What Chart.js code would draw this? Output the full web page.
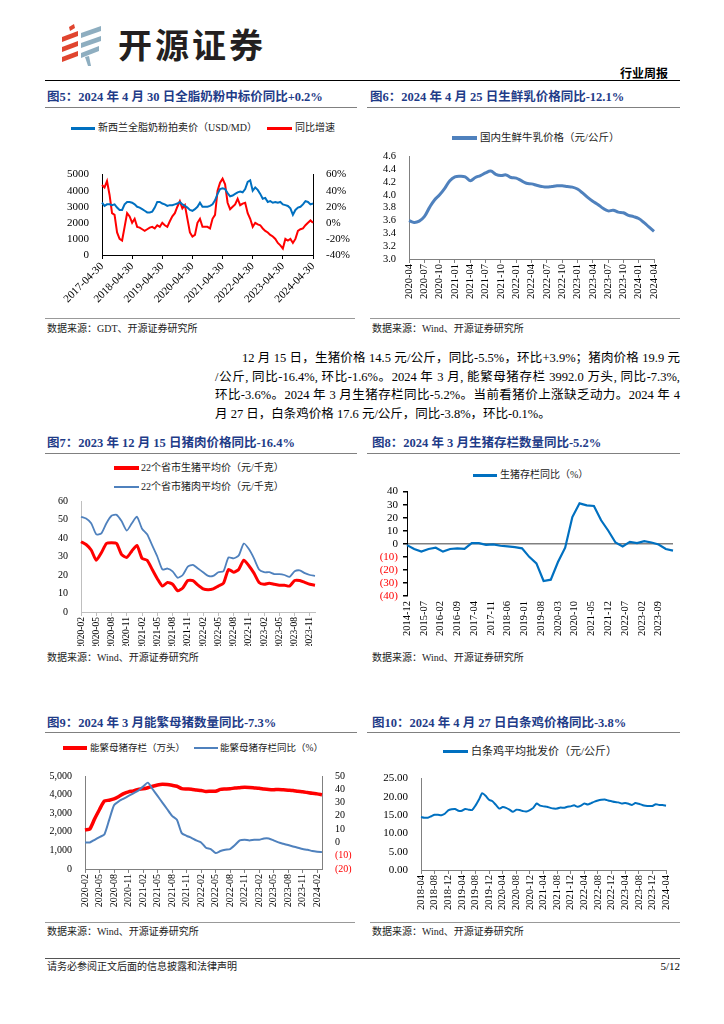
<!DOCTYPE html>
<html><head><meta charset="utf-8">
<script src="https://cdn.jsdelivr.net/npm/chart.js@4.4.1/dist/chart.umd.min.js"></script>
<style>
body{margin:0;background:#fff;}
#page{position:relative;width:724px;height:1024px;overflow:hidden;font-family:'Liberation Serif','Noto Sans CJK SC',serif;color:#000;background:#fff;}
.a{position:absolute;white-space:nowrap;}
.title{font-size:12.5px;font-weight:bold;color:#1F3C88;line-height:16px;}
.line{position:absolute;height:0;}
.src{font-size:10px;line-height:12px;color:#222;}
.leg{font-size:10px;line-height:12px;color:#222;}
.sw{position:absolute;}
.para{position:absolute;font-size:12.5px;line-height:16px;text-align:justify;text-align-last:justify;white-space:nowrap;}
.cv{position:absolute;}
</style></head>
<body><div id="page">

<svg class="a" style="left:58px;top:22px" width="56" height="46" viewBox="0 0 56 46">
  <polygon points="11,5 16,2 17,6 12,9" fill="#E0452F"/>
  <polygon points="4,15 20,9 20,14 4,20" fill="#E0452F"/>
  <polygon points="4,25 20,19 20,24 4,30" fill="#E0452F"/>
  <polygon points="4,35 20,29 20,34 4,40" fill="#E0452F"/>
  <polygon points="23,11 43,4 43,9 23,16" fill="#8EAEC0"/>
  <polygon points="23,21 43,14 43,19 23,26" fill="#8EAEC0"/>
  <polygon points="23,31 41,24 41,29 23,36" fill="#8EAEC0"/>
  <polygon points="27,35 31,34 33,44 30,44" fill="#8EAEC0"/>
</svg>
<div class="a" style="left:118px;top:24px;font-family:'Noto Sans CJK SC';font-weight:bold;font-size:34px;line-height:40px;letter-spacing:3px;color:#231f20;">开源证券</div>
<div class="a" style="right:56px;top:67px;font-size:12px;line-height:14px;font-weight:bold;">行业周报</div>
<div class="line" style="left:45px;top:80px;width:635px;border-top:1.5px solid #000;"></div>

<div class="a title" style="left:47px;top:89px;">图5：2024 年 4 月 30 日全脂奶粉中标价同比+0.2%</div>
<div class="a title" style="left:370px;top:89px;">图6：2024 年 4 月 25 日生鲜乳价格同比-12.1%</div>
<div class="line" style="left:45px;top:107px;width:312px;border-top:1.5px solid #808080;"></div>
<div class="line" style="left:367px;top:107px;width:313px;border-top:1.5px solid #808080;"></div>

<div class="sw" style="left:71px;top:127px;width:24px;height:2.5px;background:#0070C0;"></div>
<div class="a leg" style="left:98px;top:122px;">新西兰全脂奶粉拍卖价（USD/MD）</div>
<div class="sw" style="left:267px;top:127px;width:25px;height:2.5px;background:#FF0000;"></div>
<div class="a leg" style="left:295px;top:122px;">同比增速</div>

<div class="sw" style="left:452px;top:136px;width:25px;height:4px;background:#4F81BD;"></div>
<div class="a leg" style="left:480px;top:132px;font-size:10.5px;">国内生鲜牛乳价格（元/公斤）</div>

<div class="cv" style="left:45px;top:163px;"><canvas id="c5" width="310" height="152"></canvas></div>
<div class="cv" style="left:367px;top:145px;"><canvas id="c6" width="313" height="167"></canvas></div>

<div class="line" style="left:45px;top:318px;width:310px;border-top:1.5px solid #999;"></div>
<div class="line" style="left:370px;top:318px;width:310px;border-top:1.5px solid #999;"></div>
<div class="a src" style="left:47px;top:323px;">数据来源：GDT、开源证券研究所</div>
<div class="a src" style="left:372px;top:323px;">数据来源：Wind、开源证券研究所</div>

<div class="para" style="left:242px;top:350px;width:438px;">12 月 15 日，生猪价格 14.5 元/公斤，同比-5.5%，环比+3.9%；猪肉价格 19.9 元</div>
<div class="para" style="left:215px;top:368.5px;width:465px;">/公斤, 同比-16.4%, 环比-1.6%。2024 年 3 月, 能繁母猪存栏 3992.0 万头, 同比-7.3%,</div>
<div class="para" style="left:215px;top:387.3px;width:465px;">环比-3.6%。2024 年 3 月生猪存栏同比-5.2%。当前看猪价上涨缺乏动力。2024 年 4</div>
<div class="para" style="left:215px;top:406px;text-align:left;text-align-last:left;">月 27 日，白条鸡价格 17.6 元/公斤，同比-3.8%，环比-0.1%。</div>

<div class="a title" style="left:47px;top:435px;">图7：2023 年 12 月 15 日猪肉价格同比-16.4%</div>
<div class="a title" style="left:372px;top:435px;">图8：2024 年 3 月生猪存栏数量同比-5.2%</div>
<div class="line" style="left:45px;top:453px;width:312px;border-top:1.5px solid #808080;"></div>
<div class="line" style="left:367px;top:453px;width:313px;border-top:1.5px solid #808080;"></div>

<div class="sw" style="left:114px;top:466px;width:25px;height:4px;background:#FF0000;"></div>
<div class="a leg" style="left:141px;top:462px;">22个省市生猪平均价（元/千克）</div>
<div class="sw" style="left:114px;top:486px;width:25px;height:2px;background:#4F81BD;"></div>
<div class="a leg" style="left:141px;top:481px;">22个省市猪肉平均价（元/千克）</div>

<div class="sw" style="left:473px;top:473.5px;width:24px;height:3px;background:#0070C0;"></div>
<div class="a leg" style="left:500px;top:469px;">生猪存栏同比（%）</div>

<div class="cv" style="left:45px;top:490px;"><canvas id="c7" width="310" height="156"></canvas></div>
<div class="cv" style="left:367px;top:480px;"><canvas id="c8" width="313" height="160"></canvas></div>

<div class="a src" style="left:47px;top:652px;">数据来源：Wind、开源证券研究所</div>
<div class="a src" style="left:372px;top:652px;">数据来源：Wind、开源证券研究所</div>

<div class="a title" style="left:47px;top:715px;">图9：2024 年 3 月能繁母猪数量同比-7.3%</div>
<div class="a title" style="left:372px;top:715px;">图10：2024 年 4 月 27 日白条鸡价格同比-3.8%</div>
<div class="line" style="left:45px;top:732px;width:312px;border-top:1.5px solid #808080;"></div>
<div class="line" style="left:367px;top:732px;width:313px;border-top:1.5px solid #808080;"></div>

<div class="sw" style="left:63px;top:746px;width:24px;height:4px;background:#FF0000;"></div>
<div class="a leg" style="left:90px;top:742px;font-size:9.5px;">能繁母猪存栏（万头）</div>
<div class="sw" style="left:194px;top:746.8px;width:24px;height:2.5px;background:#4F81BD;"></div>
<div class="a leg" style="left:220px;top:742px;font-size:9.5px;">能繁母猪存栏同比（%）</div>

<div class="sw" style="left:443px;top:749.5px;width:25px;height:3px;background:#0070C0;"></div>
<div class="a leg" style="left:471px;top:745px;font-size:11px;">白条鸡平均批发价（元/公斤）</div>

<div class="cv" style="left:45px;top:765px;"><canvas id="c9" width="310" height="153"></canvas></div>
<div class="cv" style="left:367px;top:767px;"><canvas id="c10" width="313" height="151"></canvas></div>

<div class="line" style="left:45px;top:922px;width:310px;border-top:1.5px solid #999;"></div>
<div class="line" style="left:370px;top:922px;width:310px;border-top:1.5px solid #999;"></div>
<div class="a src" style="left:47px;top:926px;">数据来源：Wind、开源证券研究所</div>
<div class="a src" style="left:372px;top:926px;">数据来源：Wind、开源证券研究所</div>

<div class="line" style="left:45px;top:958px;width:635px;border-top:1.5px solid #555;"></div>
<div class="a src" style="left:47px;top:961px;">请务必参阅正文后面的信息披露和法律声明</div>
<div class="a" style="right:44px;top:960px;font-size:11px;line-height:13px;">5/12</div>

</div>
<script>
// ---------- data ----------
// Fig 5: GDT WMP auction price (USD/MT) and YoY (%), monthly 2017-04 .. 2024-04
const dairyTicks = ['2017-04-30','2018-04-30','2019-04-30','2020-04-30','2021-04-30','2022-04-30','2023-04-30','2024-04-30'];
const dairyPrice = [
  3250,3050,3150,3150,3100,3150,2950,2800,2800,
  3150,3300,3300,3250,3150,3000,2950,2850,2750,2650,2650,2700,
  2950,3300,3300,3200,3150,3050,3100,3100,3150,3200,3300,3150,
  3050,2950,2800,2750,2850,3000,3250,3000,3000,3000,3050,3150,
  3400,3800,4100,4150,4100,3850,3650,3700,3800,3900,3950,3900,
  4100,4550,4650,4000,4200,4050,3800,3500,3550,3300,3350,3250,
  3300,3250,3300,3150,3100,3050,2900,2500,2800,2950,3000,3150,
  3350,3300,3150,3200];
const dairyYoY = [
  47,44,52,35,12,10,-12,-20,-22,
  -5,12,8,0,5,-5,-6,-8,-10,-8,-6,-5,
  -7,-3,-5,0,-3,-5,2,8,12,20,27,18,
  22,5,-12,-17,-15,0,5,-5,-5,-5,-7,5,
  10,40,50,55,48,25,17,20,23,30,22,24,
  25,12,5,-5,0,-2,-3,-7,-10,-12,-15,-17,
  -20,-25,-28,-32,-20,-22,-20,-25,-20,-10,-8,-7,
  -3,0,3,0];

// Fig 6: raw milk price (yuan/kg), monthly 2020-04 .. 2024-04
const milkTicks = ['2020-04','2020-07','2020-10','2021-01','2021-04','2021-07','2021-10','2022-01','2022-04','2022-07','2022-10','2023-01','2023-04','2023-07','2023-10','2024-01','2024-04'];
const rawMilk = [
  3.60,3.57,3.59,3.66,3.80,3.92,4.00,4.10,4.22,
  4.28,4.29,4.28,4.22,4.27,4.30,4.34,4.37,4.32,4.30,4.31,4.27,
  4.26,4.22,4.18,4.17,4.15,4.13,4.12,4.13,4.14,4.14,4.13,4.12,
  4.09,4.03,3.96,3.90,3.85,3.79,3.75,3.76,3.73,3.72,3.68,3.66,
  3.63,3.57,3.50,3.43];

// Fig 7: live hog and pork prices (yuan/kg), monthly 2020-02 .. 2023-12
const pigTicks = ['2020-02','2020-05','2020-08','2020-11','2021-02','2021-05','2021-08','2021-11','2022-02','2022-05','2022-08','2022-11','2023-02','2023-05','2023-08','2023-11'];
const hogPrice = [
  38,36.5,33.5,28,32,37,37.5,37,31,29.5,33,
  36,29,28,23,18,14,16,15,11.5,13,17,17,
  14.5,12.5,12,12.5,14,15.5,23,21.5,23,28,25,21,
  16,15,15.5,15,14.5,14.5,14,17,17,16,15,14.5];
const porkPrice = [
  51.5,50.5,48,42,42.5,48,52,52.5,49,44,48,
  51.5,45,42,36,30,23,23.5,22,18.5,20,24.5,25.5,
  23.5,21.5,19.5,19.5,21.5,22,29.5,29,30.5,37,34,29,
  23,21.5,21.5,20.5,20.5,20,19,22,22.5,21,20,19.5];

// Fig 8: hog inventory YoY (%), quarterly readings on a monthly axis 2014-12 .. 2024-03
const hogTicks = ['2014-12','2015-07','2016-02','2016-09','2017-04','2017-11','2018-06','2019-01','2019-08','2020-03','2020-10','2021-05','2021-12','2022-07','2023-02','2023-09'];
const hogStockYoY = [
  -1,-4,-6,-4,-3,-6,-4,-3.5,-3.8,0.5,0.5,-0.8,-0.5,-1.5,-2,-2.5,-3.5,-10,-15,
  -28.5,-27.5,-14,-3,20.5,31,29.5,29,18,10,1,-2,1.5,0.5,2,1,-0.5,-4,-5.2];

// Fig 9: breeding sows (10k head) and YoY (%), monthly 2020-02 .. 2024-03
const sowTicks = ['2020-02','2020-05','2020-08','2020-11','2021-02','2021-05','2021-08','2021-11','2022-02','2022-05','2022-08','2022-11','2023-02','2023-05','2023-08','2023-11','2024-02'];
const sowStock = [
  2100,2150,2700,3200,3650,3700,3770,3900,4050,4150,
  4200,4280,4310,4370,4450,4520,4560,4540,4500,4450,
  4320,4300,4290,4250,4220,4170,4180,4180,4280,4300,
  4320,4350,4370,4390,4380,4360,4340,4300,4270,4260,
  4280,4260,4240,4220,4180,4150,4110,4070,4040,3992];
const sowYoY = [
  0,0,2,4,6,17,28,31,33,35,
  37,39,42,45,40,35,30,25,20,17,
  7,5,3.5,1.5,0,-4,-5,-8,-6.5,-5.5,
  -5,-2,1.5,2,1.5,2,2,3,3,1.5,
  0,-1,-2,-3,-4,-5,-5.5,-6.5,-7,-7.3];

// Fig 10: broiler wholesale price (yuan/kg), monthly 2018-04 .. 2024-04
const chickTicks = ['2018-04','2018-08','2018-12','2019-04','2019-08','2019-12','2020-04','2020-08','2020-12','2021-04','2021-08','2021-12','2022-04','2022-08','2022-12','2023-04','2023-08','2023-12','2024-04'];
const chickenPrice = [
  14.5,14.3,14.3,14.7,15.1,15.1,15.0,15.4,16.3,
  16.6,16.7,16.2,16.2,16.7,16.5,16.4,17.6,19.2,21.0,20.3,19.2,
  18.8,17.8,16.8,17.2,17.0,16.5,15.9,16.5,16.4,16.1,16.0,16.4,
  17.0,18.2,17.6,17.4,17.3,17.0,16.8,16.8,17.1,17.0,17.3,17.4,
  17.7,17.3,17.6,18.2,17.9,18.3,18.7,19.0,19.2,19.3,19.0,18.8,
  18.6,18.5,18.2,18.3,18.1,17.8,18.3,18.1,17.8,17.6,17.5,17.5,
  18.0,17.8,17.8,17.6];

// ---------- helpers ----------
function monthLabels(y, m, n){
  const out = [];
  for (let i = 0; i < n; i++){
    const mm = m - 1 + i;
    out.push((y + Math.floor(mm / 12)) + '-' + String(mm % 12 + 1).padStart(2, '0'));
  }
  return out;
}
const F = "'Liberation Serif','Noto Sans CJK SC',serif";
Chart.defaults.font.family = F;
Chart.defaults.color = '#000';
Chart.defaults.animation = false;

function xAxis(ticks, every, h, size, col, opts){
  opts = opts || {};
  return {
    type: 'category',
    offset: false,
    grid: {display: opts.noGrid ? false : true, drawOnChartArea: false, drawTicks: true, tickLength: 4, color: col},
    border: {display: opts.noBorder ? false : true, color: col, width: 1},
    ticks: {autoSkip: false, maxRotation: opts.rot || 90, minRotation: opts.rot || 90, padding: 1,
            font: {size: size}, color: '#000',
            callback: (v, i) => (i % every === 0 && ticks[i / every] !== undefined) ? ticks[i / every] : null},
    afterFit: s => { s.height = h; }
  };
}
function yAxis(pos, min, max, step, w, size, col, fmt, extra){
  const a = {
    position: pos, min: min, max: max,
    ticks: {stepSize: step, autoSkip: false, font: {size: size}, padding: 5, callback: fmt,
            color: c => (c.tick && c.tick.value < 0 && extra && extra.redNeg) ? '#FF0000' : '#000'},
    grid: {display: false},
    border: {display: true, color: col, width: 1},
    afterFit: s => { s.width = w; }
  };
  if (extra && extra.grid) a.grid = extra.grid;
  return a;
}
function baseOpts(pad, scales){
  return {
    responsive: false, animation: false,
    layout: {padding: pad},
    plugins: {legend: {display: false}, tooltip: {enabled: false}},
    elements: {point: {radius: 0}},
    scales: scales
  };
}
const paren = v => v < 0 ? '(' + (-v) + ')' : String(v);

// ---------- Fig 5 ----------
new Chart(document.getElementById('c5'), {
  type: 'line',
  data: {labels: monthLabels(2017, 4, dairyPrice.length), datasets: [
    {data: dairyPrice, borderColor: '#0070C0', borderWidth: 2, yAxisID: 'y', tension: 0},
    {data: dairyYoY, borderColor: '#FF0000', borderWidth: 2, yAxisID: 'y1', tension: 0}
  ]},
  options: baseOpts({top: 8, right: 0, left: 0, bottom: 0}, {
    x: xAxis(dairyTicks, 12, 60, 11, '#000', {rot: 45}),
    y: yAxis('left', 0, 5000, 1000, 57, 11, '#000', v => String(v)),
    y1: yAxis('right', -40, 60, 20, 42, 11, '#000', v => v + '%')
  })
});

// ---------- Fig 6 ----------
new Chart(document.getElementById('c6'), {
  type: 'line',
  data: {labels: monthLabels(2020, 4, rawMilk.length), datasets: [
    {data: rawMilk, borderColor: '#4F81BD', borderWidth: 3, tension: 0.4}
  ]},
  options: baseOpts({top: 8, right: 26, left: 0, bottom: 0}, {
    x: xAxis(milkTicks, 3, 53, 10.5, '#808080'),
    y: yAxis('left', 3.0, 4.6, 0.2, 42, 10.5, '#808080', v => Number(v).toFixed(1))
  })
});

// ---------- Fig 7 ----------
new Chart(document.getElementById('c7'), {
  type: 'line',
  data: {labels: monthLabels(2020, 2, hogPrice.length), datasets: [
    {data: porkPrice, borderColor: '#4F81BD', borderWidth: 1.8, tension: 0.2},
    {data: hogPrice, borderColor: '#FF0000', borderWidth: 3, tension: 0.2}
  ]},
  options: baseOpts({top: 8, right: 40, left: 0, bottom: 0}, {
    x: xAxis(pigTicks, 3, 34, 9.5, '#bfbfbf'),
    y: yAxis('left', 0, 60, 10, 36, 10, '#bfbfbf', v => String(v))
  })
});

// ---------- Fig 8 ----------
const hogLabels = monthLabels(2014, 12, hogStockYoY.length * 3 - 2);
const hogSeries = hogLabels.map((_, i) => i % 3 === 0 ? hogStockYoY[i / 3] : null);
new Chart(document.getElementById('c8'), {
  type: 'line',
  data: {labels: hogLabels, datasets: [
    {data: hogSeries, borderColor: '#0070C0', borderWidth: 2.2, tension: 0, spanGaps: true}
  ]},
  options: baseOpts({top: 8, right: 7, left: 0, bottom: 0}, {
    x: xAxis(hogTicks, 7, 44, 10.5, '#000', {noBorder: true, noGrid: true}),
    y: yAxis('left', -40, 40, 10, 40, 11, '#000', paren, {redNeg: true,
      grid: {display: true, drawOnChartArea: true, drawTicks: true, tickLength: 4, tickColor: '#000',
             color: c => (c.tick && c.tick.value === 0) ? '#808080' : 'rgba(0,0,0,0)', lineWidth: 1.5}})
  })
});

// ---------- Fig 9 ----------
new Chart(document.getElementById('c9'), {
  type: 'line',
  data: {labels: monthLabels(2020, 2, sowStock.length), datasets: [
    {data: sowYoY, borderColor: '#4F81BD', borderWidth: 2, yAxisID: 'y1', tension: 0.2},
    {data: sowStock, borderColor: '#FF0000', borderWidth: 3.5, yAxisID: 'y', tension: 0.2}
  ]},
  options: baseOpts({top: 8, right: 0, left: 0, bottom: 0}, {
    x: xAxis(sowTicks, 3, 49, 10, '#808080'),
    y: yAxis('left', 0, 5000, 1000, 40, 10, '#808080', v => Number(v).toLocaleString('en-US')),
    y1: yAxis('right', -20, 50, 10, 33, 10, '#808080', paren, {redNeg: true})
  })
});

// ---------- Fig 10 ----------
new Chart(document.getElementById('c10'), {
  type: 'line',
  data: {labels: monthLabels(2018, 4, chickenPrice.length), datasets: [
    {data: chickenPrice, borderColor: '#0070C0', borderWidth: 2, tension: 0.2}
  ]},
  options: baseOpts({top: 8, right: 14, left: 0, bottom: 0}, {
    x: xAxis(chickTicks, 4, 48, 10.5, '#808080'),
    y: yAxis('left', 0, 25, 5, 54, 11, '#808080', v => Number(v).toFixed(2))
  })
});
</script>
</body></html>
